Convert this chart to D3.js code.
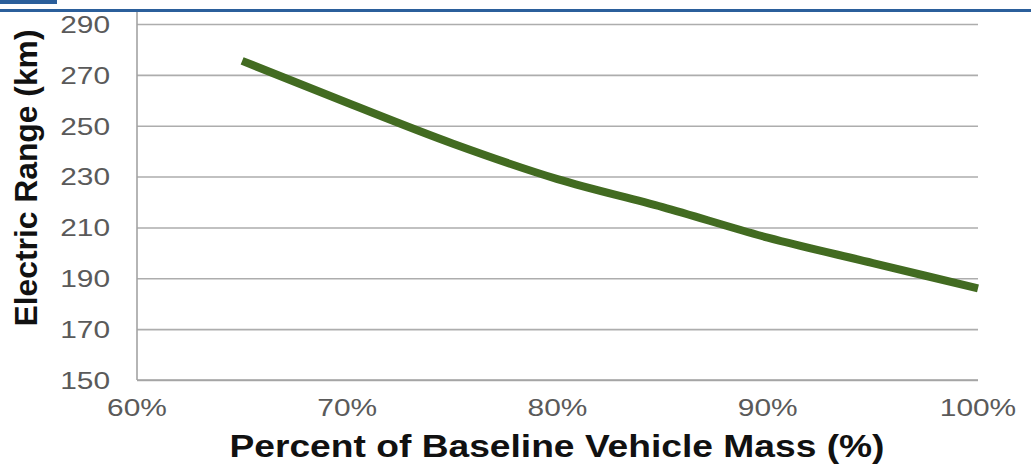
<!DOCTYPE html>
<html>
<head>
<meta charset="utf-8">
<script src="https://cdn.jsdelivr.net/npm/d3@7"></script>
<style>
  html, body { margin: 0; padding: 0; background: #fff; }
  svg { display: block; }
</style>
</head>
<body>
<svg id="chart" width="1031" height="464"></svg>
<script>
// Vehicle mass as percent of baseline, and resulting electric range (km)
const massPercent = [65, 70, 75, 80, 85, 90, 95, 100];
const rangeKm = [275.5, 259, 243, 229, 218, 206, 196, 186];

const xTicks = [60, 70, 80, 90, 100];
const yTicks = [150, 170, 190, 210, 230, 250, 270, 290];

const xTitle = "Percent of Baseline Vehicle Mass (%)";
const yTitle = "Electric Range (km)";

const W = 1031, H = 464;
const margin = { left: 137, right: 53, top: 24, bottom: 84 };

const svg = d3.select("#chart");

// header band
svg.append("rect").attr("x", 0).attr("y", 0).attr("width", 57).attr("height", 4).attr("fill", "#2b5f9b");
svg.append("rect").attr("x", 0).attr("y", 9).attr("width", W).attr("height", 3).attr("fill", "#2b5f9b");

const x = d3.scaleLinear().domain([60, 100]).range([margin.left, W - margin.right]);
const y = d3.scaleLinear().domain([150, 290]).range([H - margin.bottom, margin.top]);

const labelScale = 1.3;

// horizontal gridlines
svg.append("g")
  .attr("transform", `translate(${margin.left},0)`)
  .call(d3.axisLeft(y).tickValues(yTicks).tickSize(-(W - margin.right - margin.left)).tickFormat(""))
  .call(g => g.select(".domain").remove())
  .call(g => g.selectAll("line").attr("stroke", "#adadad").attr("stroke-width", 1.6));

// y tick labels
const yAxis = svg.append("g")
  .attr("transform", `translate(${margin.left},0)`)
  .call(d3.axisLeft(y).tickValues(yTicks).tickSize(0).tickPadding(0).tickFormat(d3.format("d")))
  .call(g => g.select(".domain").remove());
yAxis.selectAll("text")
  .attr("x", -27 / labelScale)
  .attr("dy", "0.36em")
  .attr("transform", `scale(${labelScale},1)`)
  .attr("font-family", "Liberation Sans, Arial, sans-serif")
  .attr("font-size", 23)
  .attr("fill", "#5a5a5a");

// x tick labels
const xAxis = svg.append("g")
  .attr("transform", `translate(0,${H - margin.bottom})`)
  .call(d3.axisBottom(x).tickValues(xTicks).tickSize(0).tickPadding(0).tickFormat(d => d + "%"))
  .call(g => g.select(".domain").remove());
xAxis.selectAll("text")
  .attr("y", 36)
  .attr("dy", 0)
  .attr("transform", `scale(${labelScale},1)`)
  .attr("font-family", "Liberation Sans, Arial, sans-serif")
  .attr("font-size", 23)
  .attr("fill", "#5a5a5a");
// re-center scaled x labels on their tick positions
xAxis.selectAll(".tick").each(function(d) {
  d3.select(this).attr("transform", null);
  d3.select(this).select("text").attr("x", x(d) / labelScale);
});

// axis lines (left and bottom)
svg.append("line")
  .attr("x1", x(60)).attr("x2", x(60))
  .attr("y1", 12).attr("y2", y(150))
  .attr("stroke", "#a3a3a3").attr("stroke-width", 1.6);
svg.append("line")
  .attr("x1", x(60)).attr("x2", x(100))
  .attr("y1", y(150)).attr("y2", y(150))
  .attr("stroke", "#a3a3a3").attr("stroke-width", 1.6);

// range curve
const line = d3.line()
  .x((d, i) => x(massPercent[i]))
  .y(d => y(d))
  .curve(d3.curveMonotoneX);

svg.append("path")
  .datum(rangeKm)
  .attr("d", line)
  .attr("fill", "none")
  .attr("stroke", "#426b21")
  .attr("stroke-width", 8)
  .attr("stroke-linejoin", "round")
  .attr("stroke-linecap", "butt");

// axis titles
svg.append("text")
  .attr("x", 557).attr("y", 457)
  .attr("text-anchor", "middle")
  .attr("font-family", "Liberation Sans, Arial, sans-serif")
  .attr("font-weight", "bold")
  .attr("font-size", 31)
  .attr("textLength", 655)
  .attr("lengthAdjust", "spacingAndGlyphs")
  .attr("fill", "#111")
  .text(xTitle);

svg.append("text")
  .attr("transform", "translate(37,178) rotate(-90)")
  .attr("text-anchor", "middle")
  .attr("font-family", "Liberation Sans, Arial, sans-serif")
  .attr("font-weight", "bold")
  .attr("font-size", 31)
  .attr("textLength", 297)
  .attr("lengthAdjust", "spacingAndGlyphs")
  .attr("fill", "#111")
  .text(yTitle);
</script>
</body>
</html>
